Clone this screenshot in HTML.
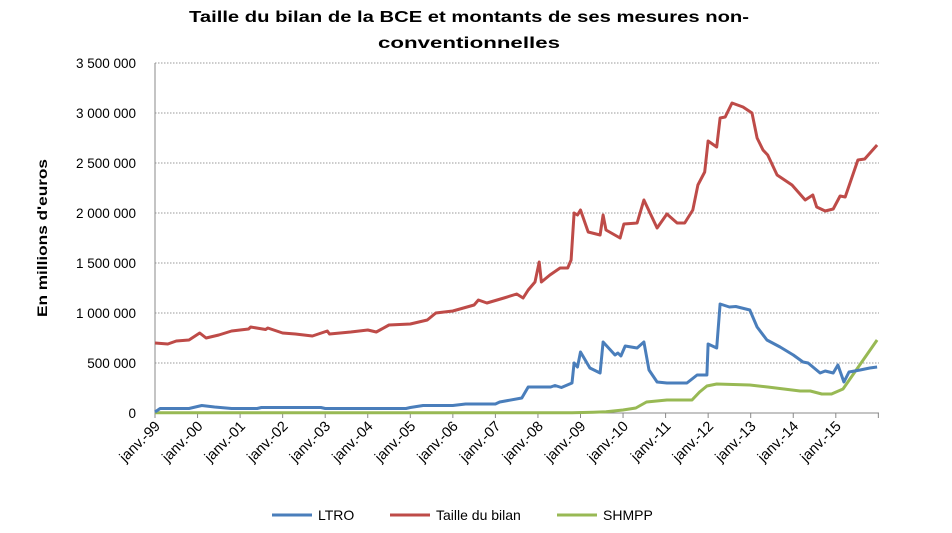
<!DOCTYPE html>
<html><head><meta charset="utf-8"><style>
html,body{margin:0;padding:0;background:#fff;}
svg{display:block;font-family:"Liberation Sans",sans-serif;}
</style></head><body>
<svg id="s" width="952" height="533" viewBox="0 0 952 533" xmlns="http://www.w3.org/2000/svg">
<text x="469" y="22" font-size="16" font-weight="bold" text-anchor="middle" textLength="560" lengthAdjust="spacingAndGlyphs">Taille du bilan de la BCE et montants de ses mesures non-</text>
<text x="469" y="48" font-size="16" font-weight="bold" text-anchor="middle" textLength="182" lengthAdjust="spacingAndGlyphs">conventionnelles</text>
<text transform="translate(47,238) rotate(-90)" font-size="14" font-weight="bold" text-anchor="middle" textLength="158" lengthAdjust="spacingAndGlyphs">En millions d'euros</text>
<g id="grid"></g>
<line x1="155" y1="63" x2="155" y2="413" stroke="#888" stroke-width="1"/>
<line x1="155" y1="413" x2="879" y2="413" stroke="#888" stroke-width="1"/>
<g id="ser" fill="none" stroke-width="3" stroke-linejoin="round"></g>
<g font-size="14">
<line x1="272" y1="515" x2="312" y2="515" stroke="#4a7ebb" stroke-width="3"/>
<text x="318" y="520">LTRO</text>
<line x1="390" y1="515" x2="430" y2="515" stroke="#be4b48" stroke-width="3"/>
<text x="436" y="520">Taille du bilan</text>
<line x1="557" y1="515" x2="597" y2="515" stroke="#98b954" stroke-width="3"/>
<text x="603" y="520">SHMPP</text>
</g>
</svg>
<script>
function X(t){return 155+t*42.55;}function Y(v){return 413-v*0.1;}
var g=document.getElementById('grid'),h='';
var labs=["0","500 000","1 000 000","1 500 000","2 000 000","2 500 000","3 000 000","3 500 000"];
for(var i=0;i<8;i++){var y=Y(i*500);
 if(i>0)h+='<line x1="155" y1="'+y+'" x2="879" y2="'+y+'" stroke="#999" stroke-dasharray="1.5,1.5"/>';
 h+='<text x="136" y="'+(y+5)+'" font-size="13.5" text-anchor="end">'+labs[i]+'</text>';}
for(var k=0;k<=17;k++){var x=X(k);h+='<line x1="'+x+'" y1="413" x2="'+x+'" y2="418" stroke="#888"/>';
 if(k<17){var yr=(99+k)%100;var ys=(yr<10?'0':'')+yr;
 h+='<text font-size="14.5" text-anchor="end" transform="translate('+(x+6)+',427) rotate(-45)">janv.-'+ys+'</text>';}}
g.innerHTML=h;
var red=[[0,700],[0.3,690],[0.5,720],[0.8,730],[1.05,800],[1.2,750],[1.5,780],[1.8,820],[2.2,840],[2.25,860],[2.6,835],[2.65,850],[3.0,800],[3.3,790],[3.7,770],[4.05,820],[4.1,790],[4.6,810],[5.0,830],[5.2,810],[5.5,880],[6.0,890],[6.4,930],[6.6,1000],[7.0,1020],[7.5,1080],[7.6,1130],[7.8,1100],[8.2,1150],[8.5,1190],[8.65,1150],[8.77,1230],[8.93,1310],[9.03,1510],[9.08,1310],[9.28,1380],[9.52,1450],[9.7,1450],[9.78,1530],[9.85,2000],[9.93,1980],[10.0,2030],[10.18,1810],[10.46,1780],[10.53,1980],[10.6,1830],[10.93,1750],[11.02,1890],[11.33,1900],[11.49,2130],[11.8,1850],[12.03,1990],[12.27,1900],[12.45,1900],[12.64,2030],[12.76,2280],[12.92,2410],[13.0,2720],[13.2,2660],[13.28,2950],[13.4,2960],[13.56,3100],[13.82,3060],[14.03,3000],[14.15,2750],[14.29,2630],[14.4,2580],[14.62,2380],[14.97,2280],[15.28,2130],[15.46,2180],[15.55,2060],[15.75,2020],[15.94,2040],[16.1,2170],[16.22,2160],[16.52,2530],[16.68,2540],[16.97,2680]];
var blue=[[0,10],[0.12,45],[0.8,45],[1.1,75],[1.4,60],[1.8,45],[2.4,45],[2.5,55],[3.9,55],[4.0,45],[5.9,45],[6.0,55],[6.3,75],[7.0,75],[7.3,90],[8.0,90],[8.1,110],[8.62,150],[8.77,260],[9.3,260],[9.4,275],[9.55,255],[9.8,300],[9.85,500],[9.93,460],[10.0,610],[10.22,450],[10.46,400],[10.53,710],[10.81,580],[10.88,600],[10.95,570],[11.05,670],[11.33,650],[11.49,710],[11.61,430],[11.8,310],[12.03,300],[12.5,300],[12.74,380],[12.97,380],[13.0,690],[13.2,650],[13.28,1090],[13.5,1060],[13.65,1065],[13.98,1030],[14.15,860],[14.38,730],[14.69,660],[15.0,580],[15.23,510],[15.35,500],[15.63,400],[15.75,420],[15.94,400],[16.05,480],[16.19,310],[16.31,410],[16.57,430],[16.8,450],[16.97,460]];
var green=[[0,2],[9.8,2],[10.3,8],[10.6,13],[11.0,30],[11.3,50],[11.55,110],[12.03,130],[12.62,130],[12.8,210],[12.97,270],[13.2,290],[13.98,280],[14.4,260],[15.16,220],[15.4,220],[15.67,190],[15.9,190],[16.17,240],[16.97,730]];
function pl(d,c){return '<polyline stroke="'+c+'" points="'+d.map(function(p){return X(p[0]).toFixed(1)+','+Y(p[1]).toFixed(1)}).join(' ')+'"/>';}
document.getElementById('ser').innerHTML=pl(green,'#98b954')+pl(blue,'#4a7ebb')+pl(red,'#be4b48');
</script>
</body></html>
